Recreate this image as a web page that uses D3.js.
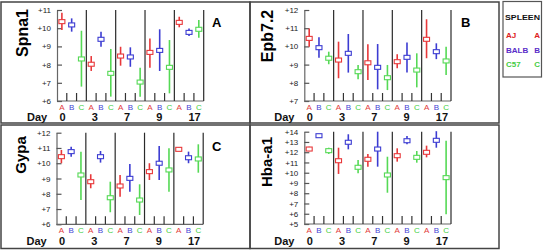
<!DOCTYPE html>
<html><head><meta charset="utf-8">
<script src="https://cdn.jsdelivr.net/npm/d3@7"></script>
<style>body{margin:0;background:#fff}svg{display:block;font-family:"Liberation Sans",Arial,sans-serif}</style>
</head><body>
<svg id="c" width="543" height="251"></svg>
<script>
const days = ["0","3","7","9","17"];
const strains = ["A","B","C"];
const strainNames = ["AJ","BALB","C57"];
const legendTitle = "SPLEEN";
const genes = ["Spna1","Epb7.2","Gypa","Hba-a1"];
const panelLetters = ["A","B","C",""];
const dayLabel = "Day";

const spna1Ticks = [6,7,8,9,10,11];
const epb72Ticks = [7,8,9,10,11,12];
const gypaTicks = [6,7,8,9,10,11,12];
const hbaTicks = [5,6,7,8,9,10,11,12,13,14];

// values ordered day by day: A, B, C
const spna1Mean = [10.36,10.18,8.31, 8.02,9.39,7.52, 8.47,8.42,7.04, 8.67,8.78,7.85, 10.32,9.77,9.94];
const spna1Low  = [9.90,9.81,6.79, 7.65,8.98,6.24, 7.94,7.88,6.24, 7.83,7.65,6.42, 10.05,9.57,9.48];
const spna1High = [10.85,10.54,9.86, 8.47,9.81,8.86, 8.98,8.95,7.83, 9.44,9.94,9.35, 10.63,9.99,10.45];

const epb72Mean = [10.44,9.93,9.35, 9.25,9.62,8.61, 9.10,8.85,8.28, 9.16,9.40,8.70, 10.39,9.71,9.20];
const epb72Low  = [9.98,9.38,9.02, 8.25,8.56,8.19, 8.15,7.64,7.60, 8.80,8.56,7.75, 9.35,9.30,8.43];
const epb72High = [10.99,10.50,9.71, 10.26,10.68,8.98, 10.12,10.13,8.98, 9.57,10.22,9.62, 11.49,10.17,9.98];

const gypaMean = [10.43,10.76,9.23, 8.79,10.43,7.74, 8.51,9.01,7.59, 9.45,10.00,9.56, 10.91,10.36,10.28];
const gypaLow  = [10.00,10.43,7.59, 8.36,10.04,6.79, 7.81,8.14,6.61, 8.90,8.90,8.14, 10.80,10.00,9.38];
const gypaHigh = [10.87,11.08,10.76, 9.28,10.80,8.79, 9.23,9.95,8.62, 10.00,11.13,10.98, 11.02,10.76,11.24];

const hbaMean = [12.31,13.61,12.15, 11.17,12.97,10.53, 11.31,12.31,9.78, 11.66,13.12,11.50, 11.99,13.16,9.52];
const hbaLow  = [12.10,13.55,11.83, 9.88,12.28,9.95, 10.59,10.59,8.05, 11.08,12.77,10.98, 11.50,12.44,5.95];
const hbaHigh = [12.54,13.66,12.44, 12.44,13.75,11.24, 11.83,14.00,11.56, 12.38,13.58,12.12, 12.64,14.05,13.12];

const barColor = {A:"#e8383a", B:"#3c3cd2", C:"#55d955"};
const textColor = {A:"#e23a3a", B:"#4444d4", C:"#3fcf3f"};
const legendColor = ["#dd2222","#5a2dc8","#44cc44"];

const series = [
  {mean:spna1Mean, low:spna1Low, high:spna1High, ticks:spna1Ticks},
  {mean:epb72Mean, low:epb72Low, high:epb72High, ticks:epb72Ticks},
  {mean:gypaMean, low:gypaLow, high:gypaHigh, ticks:gypaTicks},
  {mean:hbaMean, low:hbaLow, high:hbaHigh, ticks:hbaTicks}
];
const layouts = [
  {bx0:1, by0:2, bx1:250, by1:123, ax:57, top:10, bottom:101, catY:110, dayY:121, ylx:27.5, yly:33, yfs:16, lx:212, ly:27},
  {bx0:250, by0:2, bx1:499, by1:123, ax:304.3, top:10, bottom:101, catY:110, dayY:121, ylx:272.5, yly:36, yfs:16, lx:461, ly:27},
  {bx0:1, by0:125, bx1:250, by1:248.5, ax:56.5, top:132.7, bottom:224.3, catY:233, dayY:244.5, ylx:25.5, yly:155, yfs:15, lx:212, ly:151},
  {bx0:250, by0:125, bx1:499, by1:248.5, ax:304.3, top:131.7, bottom:224, catY:233, dayY:244.5, ylx:272, yly:162, yfs:15, lx:461, ly:151}
];

const svg = d3.select("#c");
const keys = days.flatMap(d => strains.map(s => d + "|" + s));
const plotW = 146.7;

layouts.forEach((L, i) => {
  const S = series[i];
  const g = svg.append("g");
  g.append("rect").attr("x", L.bx0).attr("y", L.by0)
    .attr("width", L.bx1 - L.bx0).attr("height", L.by1 - L.by0)
    .attr("fill", "none").attr("stroke", "#444").attr("stroke-width", 1.5);

  const y = d3.scaleLinear().domain(d3.extent(S.ticks)).range([L.bottom, L.top]);
  const x = d3.scaleBand().domain(keys).range([L.ax, L.ax + plotW]);
  const xg = d3.scaleBand().domain(days).range([L.ax, L.ax + plotW]);
  const xd = d3.scaleLinear().domain([0, days.length - 1]).range([L.ax + 2.5, L.ax + 131.5]);

  // y axis
  const yAxis = d3.axisLeft(y).tickValues(S.ticks).tickFormat(d => "+" + d)
    .tickSizeInner(-5).tickSizeOuter(0).tickPadding(6);
  const ag = g.append("g").attr("transform", `translate(${L.ax},0)`).call(yAxis);
  ag.select(".domain").attr("stroke", "#666").attr("stroke-width", 1.2);
  ag.selectAll(".tick line").attr("stroke", "#555").attr("stroke-width", 1.2);
  ag.selectAll(".tick text").attr("font-size", 8).attr("fill", "#222")
    .attr("font-family", "'Liberation Sans',Arial,sans-serif");

  // bottom axis line
  g.append("line").attr("x1", L.ax).attr("x2", L.ax + plotW)
    .attr("y1", L.bottom).attr("y2", L.bottom).attr("stroke", "#666").attr("stroke-width", 1.2);

  // group separators (full height)
  g.selectAll(".grp").data(days).join("line")
    .attr("x1", d => xg(d) + xg.bandwidth()).attr("x2", d => xg(d) + xg.bandwidth())
    .attr("y1", L.top).attr("y2", L.bottom).attr("stroke", "#2a2a2a").attr("stroke-width", 1.2);

  // small ticks between categories
  const inner = days.flatMap(d => ["B", "C"].map(s => d + "|" + s));
  g.selectAll(".st").data(inner).join("line")
    .attr("x1", k => x(k)).attr("x2", k => x(k))
    .attr("y1", L.bottom - 8).attr("y2", L.bottom).attr("stroke", "#333").attr("stroke-width", 1.2);

  // error bars
  const pts = keys.map((k, j) => ({k, s: k.split("|")[1], m: S.mean[j], lo: S.low[j], hi: S.high[j]}));
  g.selectAll(".eb").data(pts).join("line")
    .attr("x1", p => x(p.k) + x.bandwidth() / 2).attr("x2", p => x(p.k) + x.bandwidth() / 2)
    .attr("y1", p => y(p.lo)).attr("y2", p => y(p.hi))
    .attr("stroke", p => barColor[p.s]).attr("stroke-width", 1.6);
  g.selectAll(".mk").data(pts).join("rect")
    .attr("x", p => x(p.k) + x.bandwidth() / 2 - 3).attr("y", p => y(p.m) - 2)
    .attr("width", 6).attr("height", 4)
    .attr("fill", "#fff").attr("stroke", p => barColor[p.s]).attr("stroke-width", 1.1);

  // category letters
  g.selectAll(".cl").data(keys).join("text")
    .attr("x", k => x(k) + x.bandwidth() / 2).attr("y", L.catY)
    .attr("text-anchor", "middle").attr("font-size", 8)
    .attr("fill", k => textColor[k.split("|")[1]]).text(k => k.split("|")[1]);

  // day labels
  g.append("text").attr("x", L.ax - 30).attr("y", L.dayY).attr("font-size", 11)
    .attr("font-weight", "bold").attr("fill", "#111").text(dayLabel);
  g.selectAll(".dl").data(days).join("text")
    .attr("x", (d, j) => xd(j)).attr("y", L.dayY).attr("font-size", 11)
    .attr("font-weight", "bold").attr("fill", "#111").text(d => d);

  // gene label
  g.append("text").attr("transform", `translate(${L.ylx},${L.yly}) rotate(-90)`)
    .attr("text-anchor", "middle").attr("font-size", L.yfs).attr("font-weight", "bold")
    .attr("fill", "#000").text(genes[i]);

  // panel letter
  g.append("text").attr("x", L.lx).attr("y", L.ly).attr("font-size", 13)
    .attr("font-weight", "bold").attr("fill", "#000").text(panelLetters[i]);
});

// legend
const lg = svg.append("g");
lg.append("rect").attr("x", 503).attr("y", 1.5).attr("width", 38.5).attr("height", 75.5)
  .attr("fill", "#fff").attr("stroke", "#555").attr("stroke-width", 1.2);
lg.append("text").attr("x", 505).attr("y", 20).attr("font-size", 8).attr("font-weight", "bold")
  .attr("textLength", 35).attr("lengthAdjust", "spacingAndGlyphs").attr("fill", "#111").text(legendTitle);
const legY = d3.scalePoint().domain(strains).range([38, 67]);
lg.selectAll(".ln").data(strains).join("text")
  .attr("x", 506).attr("y", s => legY(s)).attr("font-size", 8).attr("font-weight", "bold")
  .attr("fill", (s, j) => legendColor[j]).text((s, j) => strainNames[j]);
lg.selectAll(".ls").data(strains).join("text")
  .attr("x", 540).attr("y", s => legY(s)).attr("text-anchor", "end").attr("font-size", 8).attr("font-weight", "bold")
  .attr("fill", (s, j) => legendColor[j]).text(s => s);
</script>
</body></html>
